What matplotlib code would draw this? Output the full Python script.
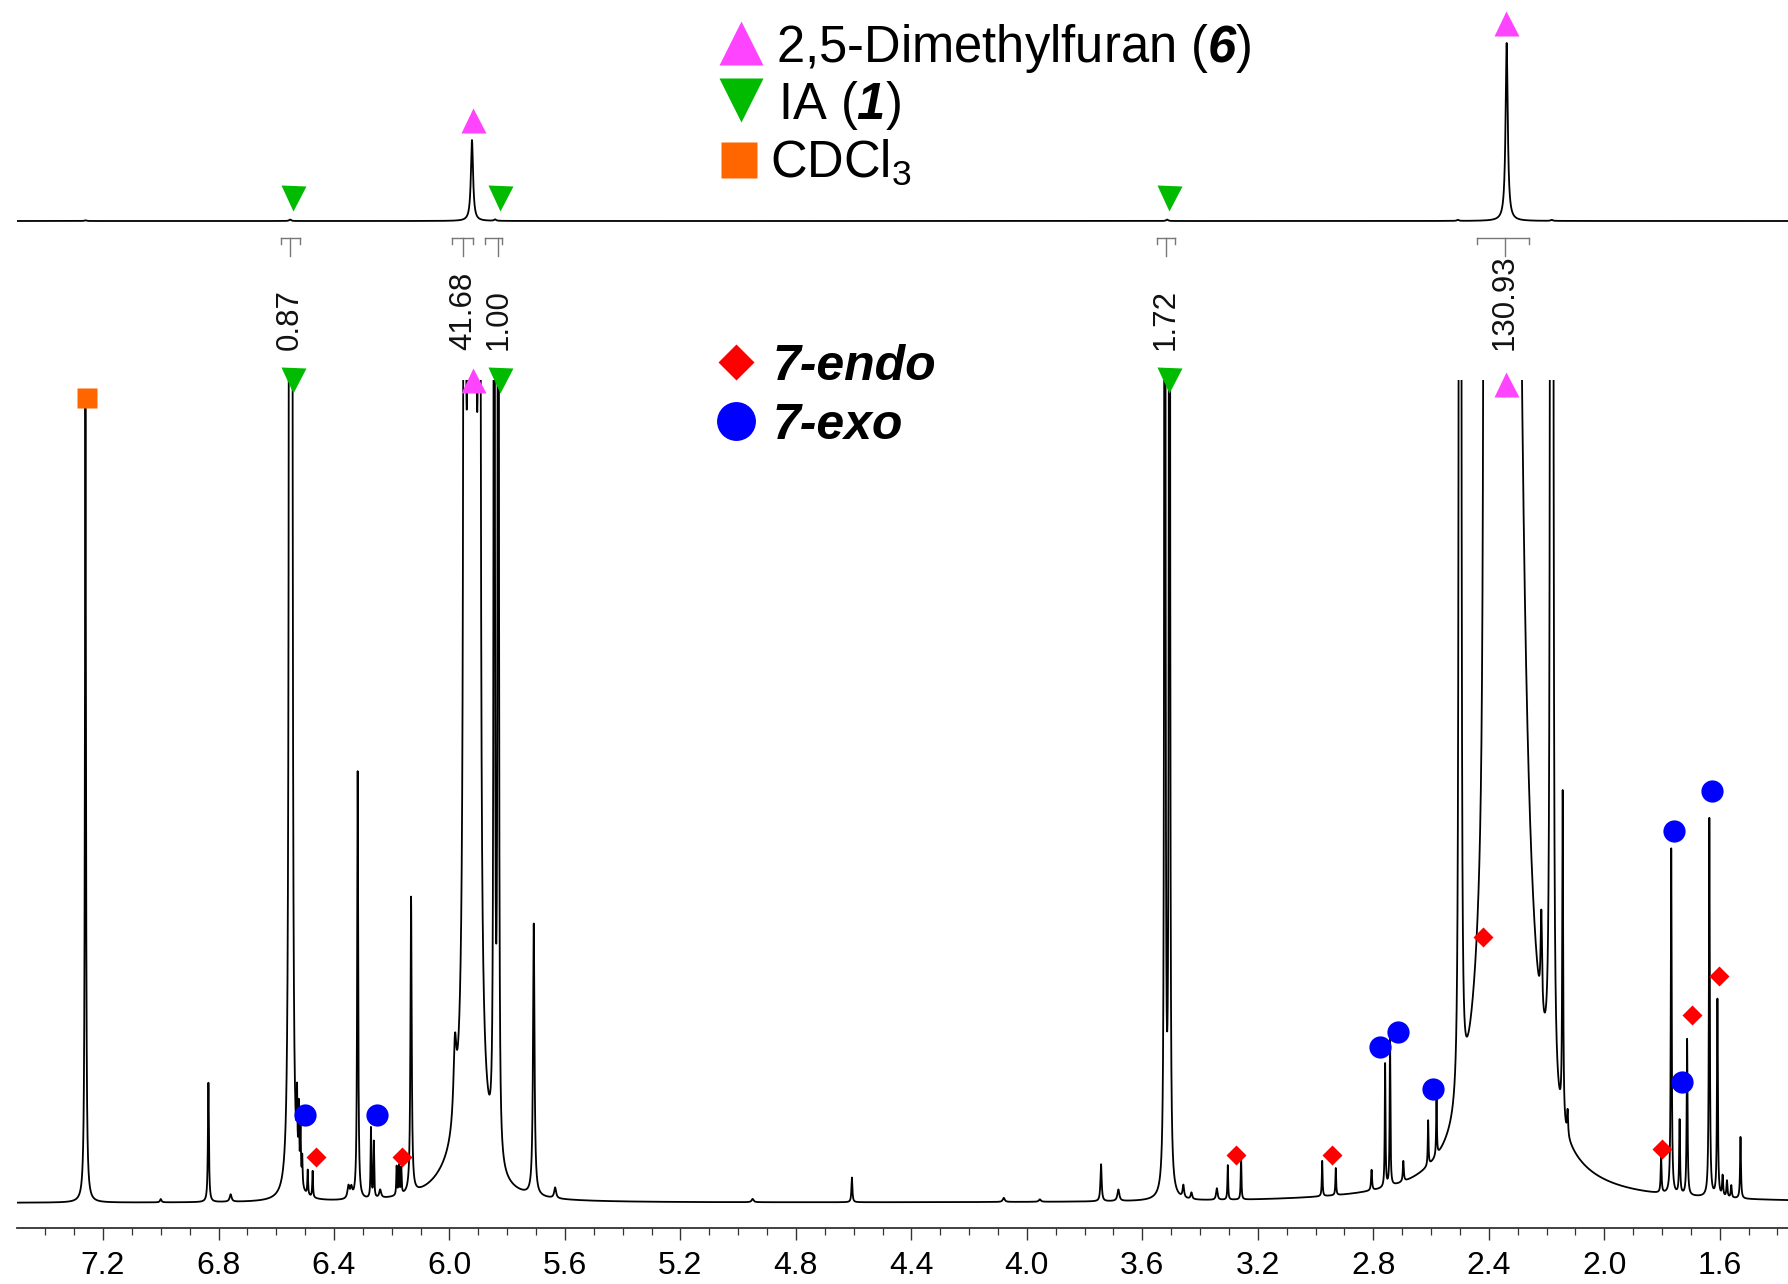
import numpy as np
import matplotlib
matplotlib.use('Agg')
import matplotlib.pyplot as plt
from matplotlib.ticker import MultipleLocator, FormatStrFormatter

W, H = 1788, 1284

plt.rcParams['font.family'] = ['Liberation Sans', 'DejaVu Sans']
plt.rcParams['mathtext.fontset'] = 'custom'
plt.rcParams['mathtext.rm'] = 'Liberation Sans'
plt.rcParams['mathtext.it'] = 'Liberation Sans:italic'
plt.rcParams['mathtext.bf'] = 'Liberation Sans:bold'
try:
    plt.rcParams['mathtext.bfit'] = 'Liberation Sans:italic:bold'
    BFIT = r'\mathbfit'
except KeyError:
    BFIT = r'\mathbf'

# expanded trace (lower panel): peak centre ppm, height, half width
main_ppm = [7.261, 7.00, 6.835, 6.758,
            6.553, 6.547, 6.528, 6.522, 6.516, 6.510, 6.491, 6.474,
            6.350, 6.340, 6.318, 6.272, 6.262, 6.240, 6.183, 6.175, 6.167, 6.133,
            6.000, 5.981, 5.922, 5.948, 5.896, 5.845, 5.831, 5.708, 5.634,
            4.95, 4.606, 4.08, 3.955, 3.743, 3.683,
            3.522, 3.506, 3.458, 3.430, 3.342, 3.304, 3.258, 2.977, 2.930, 2.806,
            2.759, 2.742, 2.696, 2.610, 2.581,
            2.502, 2.497, 2.414, 2.405, 2.338, 2.218, 2.185, 2.179, 2.144, 2.127,
            1.803, 1.768, 1.739, 1.713, 1.636, 1.608, 1.590, 1.575, 1.560, 1.528]
main_height = [97, 0.4, 14.5, 0.9,
               600, 600, 8.0, 8.0, 7.0, 3.5, 3.0, 3.2,
               1.5, 1.2, 52, 8.5, 6.8, 1.0, 3.5, 3.5, 3.2, 36,
               1.5, 9, 300, 400, 400, 300, 300, 33, 1.3,
               0.4, 3.0, 0.5, 0.3, 4.5, 1.4,
               400, 400, 1.5, 0.8, 1.4, 4.2, 5.2, 4.3, 3.3, 2.5,
               15, 18, 2.5, 5.5, 7.0,
               200, 200, 400, 400, 800, 12, 300, 300, 40, 3,
               4.5, 42, 9, 19, 46, 24, 2.5, 2.0, 1.5, 7.5]
main_width = [0.0022, 0.003, 0.002, 0.004,
              0.0015, 0.0015, 0.0015, 0.0015, 0.0015, 0.0015, 0.0015, 0.0015,
              0.004, 0.004, 0.002, 0.0015, 0.0015, 0.004, 0.0015, 0.0015, 0.0015, 0.0025,
              0.08, 0.006, 0.01, 0.002, 0.002, 0.0015, 0.0015, 0.003, 0.004,
              0.004, 0.002, 0.004, 0.004, 0.0025, 0.004,
              0.0013, 0.0013, 0.003, 0.003, 0.003, 0.0015, 0.0015, 0.0015, 0.0015, 0.002,
              0.0015, 0.0015, 0.002, 0.0015, 0.0015,
              0.002, 0.002, 0.002, 0.002, 0.02, 0.003, 0.002, 0.002, 0.0018, 0.002,
              0.0018, 0.0018, 0.0018, 0.0018, 0.0018, 0.0018, 0.002, 0.002, 0.002, 0.0018]

# full-scale trace (upper panel)
top_ppm = [7.261, 6.552, 5.922, 5.842, 3.514, 2.507, 2.338, 2.182]
top_height = [0.4, 0.8, 45.5, 0.8, 0.8, 0.6, 100, 0.6]
top_width = [0.004, 0.004, 0.0045, 0.004, 0.004, 0.004, 0.0045, 0.004]

# integrals
int_lo = [6.583, 5.991, 5.877, 3.549, 2.440]
int_hi = [6.518, 5.918, 5.819, 3.487, 2.260]
int_stem = [6.552, 5.952, 5.831, 3.518, 2.344]
int_value = ['0.87', '41.68', '1.00', '1.72', '130.93']

# peak assignments
ia_top_ppm = [6.542, 5.826, 3.508]
dmf_top_ppm = [5.920, 2.339]
dmf_top_h = [56.9, 111]
ia_main_ppm = [6.542, 5.825, 3.507]
dmf_main_ppm = [5.920, 2.340]
cdcl3_ppm, cdcl3_h = 7.256, 97.8
exo_ppm = [6.499, 6.252, 2.777, 2.715, 2.592, 1.758, 1.732, 1.627]
exo_h = [10.7, 10.7, 19.0, 20.8, 13.9, 45.2, 14.7, 50.1]
endo_ppm = [6.463, 6.165, 3.277, 2.944, 2.419, 1.801, 1.697, 1.601]
endo_h = [5.55, 5.55, 5.8, 5.8, 32.3, 6.6, 22.9, 27.6]

PINK, GREEN, ORANGE = '#FF44FF', '#00BB00', '#FF6600'
RED, BLUE = '#FF0000', '#0000FF'

ppm = np.linspace(7.5, 1.36, 40000)


def trace(centres, heights, widths):
    y = np.zeros_like(ppm)
    for c, h, w in zip(centres, heights, widths):
        y += h / (1 + ((ppm - c) / w) ** 2)
    return y


def px_axes(fig, x0, y0, x1, y1):
    return fig.add_axes([x0 / W, 1 - y1 / H, (x1 - x0) / W, (y1 - y0) / H])


fig = plt.figure(figsize=(W / 100, H / 100), dpi=100)

xl = (7.498, 1.3635)

# lower panel
ax = px_axes(fig, 17, 380, W, 1228)
ax.plot(ppm, trace(main_ppm, main_height, main_width), color='black', lw=1.3)
ax.set_xlim(*xl)
ax.set_ylim(-3.04, 100)
for s in ['left', 'right', 'top']:
    ax.spines[s].set_visible(False)
ax.spines['bottom'].set_color('#333333')
ax.spines['bottom'].set_linewidth(1.3)
ax.set_yticks([])
ax.xaxis.set_major_locator(MultipleLocator(0.4))
ax.xaxis.set_minor_locator(MultipleLocator(0.1))
ax.xaxis.set_major_formatter(FormatStrFormatter('%.1f'))
ax.tick_params(axis='x', which='major', length=8.5, width=1.0, color='#333333',
               labelsize=23, pad=8)
ax.tick_params(axis='x', which='minor', length=5, width=0.9, color='#333333')
ax.patch.set_visible(False)

ax.plot(ia_main_ppm, [100] * 3, 'v', ms=18, color=GREEN, mec='none', clip_on=False)
ax.plot(dmf_main_ppm, [100, 99.5], '^', ms=18, color=PINK, mec='none', clip_on=False)
ax.plot([cdcl3_ppm], [cdcl3_h], 's', ms=15, color=ORANGE, mec='none', clip_on=False)
ax.plot(exo_ppm, exo_h, 'o', ms=16, color=BLUE, mec='none', clip_on=False)
ax.plot(endo_ppm, endo_h, 'D', ms=10.5, color=RED, mec='none', clip_on=False)

# upper panel
ax2 = px_axes(fig, 17, 30, W, 235)
ax2.plot(ppm, trace(top_ppm, top_height, top_width), color='black', lw=1.3)
ax2.set_xlim(*xl)
ax2.set_ylim(-7.865, 107.3)
ax2.axis('off')
ax2.plot(ia_top_ppm, [12.8] * 3, 'v', ms=18, color=GREEN, mec='none', clip_on=False)
ax2.plot(dmf_top_ppm, dmf_top_h, '^', ms=18, color=PINK, mec='none', clip_on=False)

for lo, hi, st, val in zip(int_lo, int_hi, int_stem, int_value):
    kw = dict(color='#777777', lw=1.0, clip_on=False)
    ax2.plot([lo, hi], [-9.6, -9.6], **kw)
    ax2.plot([lo, lo], [-9.6, -12.9], **kw)
    ax2.plot([hi, hi], [-9.6, -12.9], **kw)
    ax2.plot([st, st], [-9.6, -19.7], **kw)
    ax2.text(st, -72.5, val, rotation=90, ha='center', va='bottom',
             fontsize=22.5, color='#111111')

# legends in pixel coordinates
ann = fig.add_axes([0, 0, 1, 1])
ann.set_xlim(0, W)
ann.set_ylim(H, 0)
ann.axis('off')
ann.plot([741], [43.3], '^', ms=31, color=PINK, mec='none')
ann.plot([741], [100.3], 'v', ms=31, color=GREEN, mec='none')
ann.plot([739], [159.6], 's', ms=26, color=ORANGE, mec='none')
ann.plot([735.5], [361.5], 'D', ms=18.6, color=RED, mec='none')
ann.plot([735.5], [420.8], 'o', ms=28, color=BLUE, mec='none')
ann.text(776, 61.6, '2,5-Dimethylfuran ($' + BFIT + '{6}$)', fontsize=36.5, va='baseline')
ann.text(778, 118.6, 'IA ($' + BFIT + '{1}$)', fontsize=36.5, va='baseline')
ann.text(770, 176.7, 'CDCl$_3$', fontsize=36.5, va='baseline')
ann.text(773, 379.7, '7-endo', fontsize=36, va='baseline', fontweight='bold', style='italic')
ann.text(773, 439, '7-exo', fontsize=36, va='baseline', fontweight='bold', style='italic')

fig.savefig('out.png', dpi=100)
